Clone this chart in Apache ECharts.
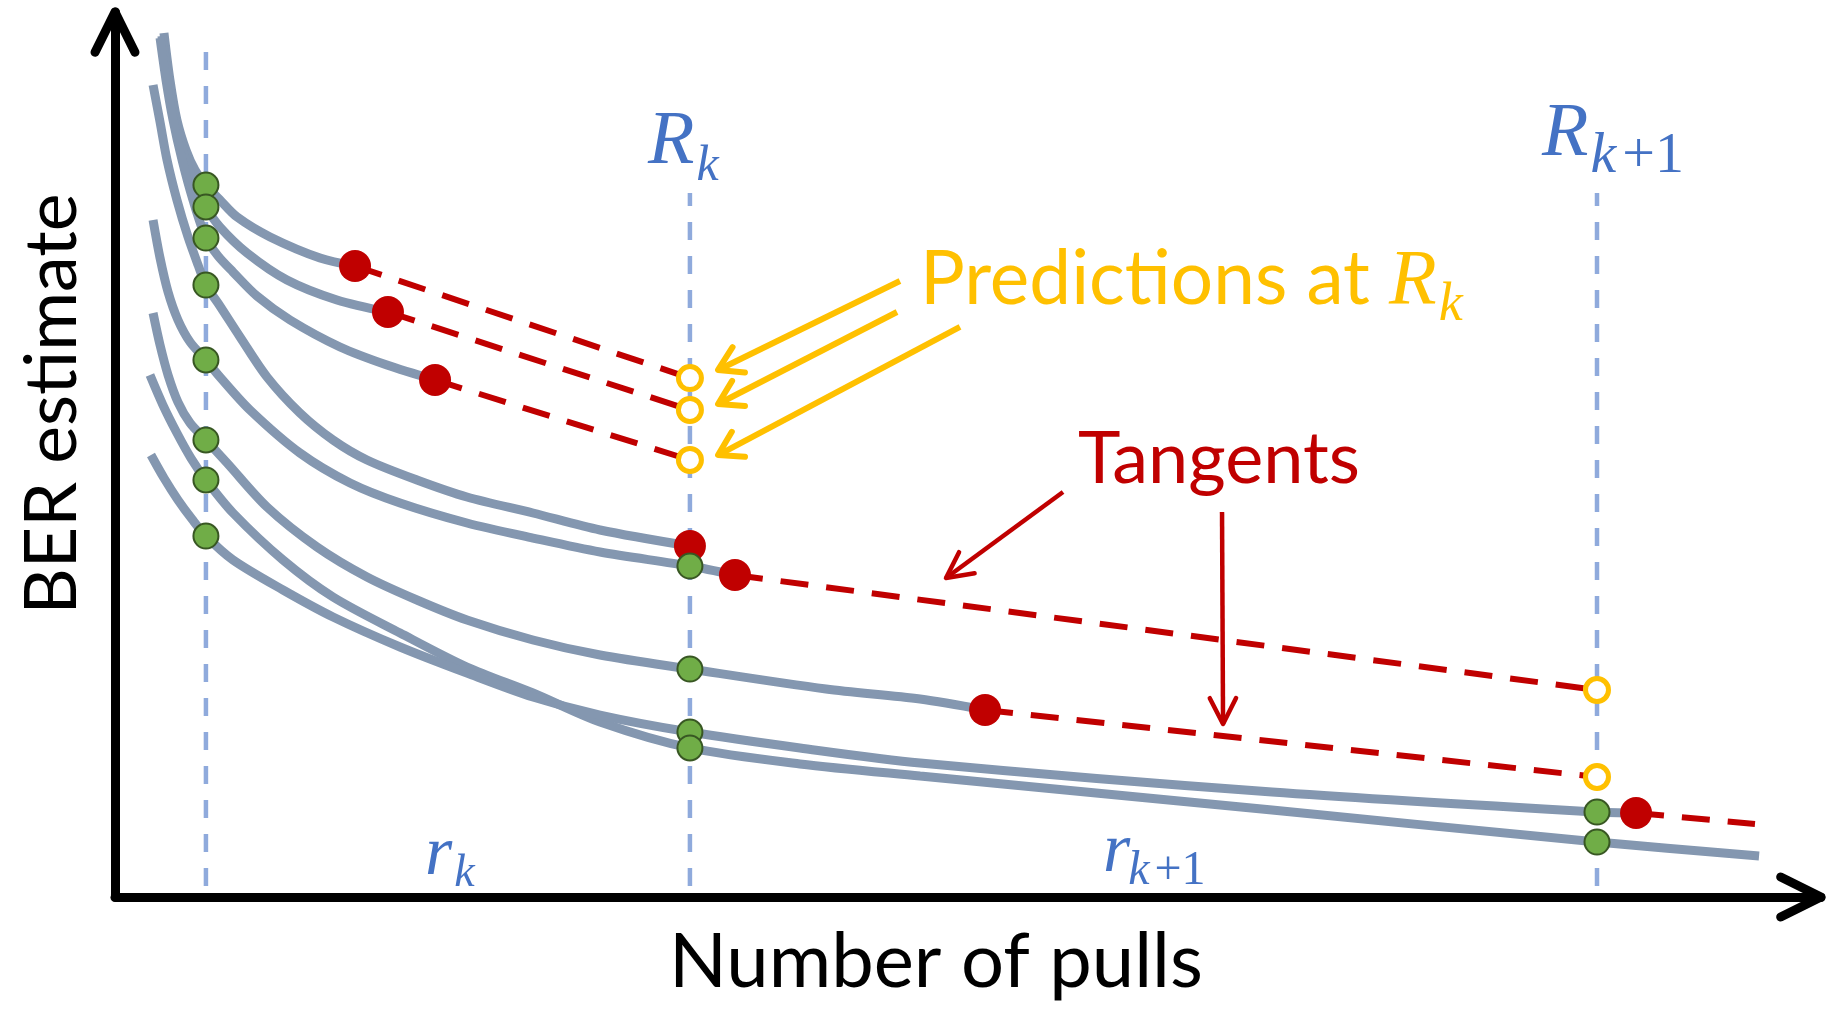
<!DOCTYPE html>
<html>
<head>
<meta charset="utf-8">
<script src="https://cdn.jsdelivr.net/npm/echarts@6/dist/echarts.min.js"></script>
<style>
html,body{margin:0;padding:0;background:#ffffff;}
#chart{width:1840px;height:1019px;}
</style>
</head>
<body>
<div id="chart"></div>
<script>
// ===== DATA (x = number of pulls, y = BER estimate; schematic units 0..100) =====
const checkpointX = [5.33, 33.70, 86.87];          // r_k start, R_k, R_{k+1}
const guideTop = [96.5, 79.55, 79.55];
const guideBottom = 1.24;

const curveA = [[2.87,97.63],[3.22,92.32],[3.63,87.80],[4.16,84.41],[4.69,82.15],[5.33,80.45],[6.15,78.76],[7.15,76.84],[9.09,74.58],[12.02,72.20],[14.07,71.30]];
const curveB = [[2.75,97.29],[3.11,92.32],[3.52,87.80],[4.04,83.84],[4.69,80.45],[5.33,77.97],[6.15,75.71],[7.74,72.77],[10.08,69.72],[13.01,67.46],[16.00,66.10]];
const curveC = [[2.64,97.06],[2.99,92.32],[3.40,87.80],[3.93,83.28],[4.57,78.76],[5.33,74.46],[6.04,72.43],[6.92,70.62],[8.32,67.91],[10.26,65.20],[13.19,62.15],[15.94,60.11],[18.76,58.42]];
const curveD = [[2.23,91.75],[2.64,87.57],[3.05,83.28],[3.63,78.76],[4.28,74.58],[4.87,71.41],[5.33,69.15],[6.15,66.78],[7.33,63.28],[8.91,58.76],[10.84,54.69],[12.78,51.64],[14.77,49.38],[17.70,47.12],[20.63,45.20],[24.50,43.39],[28.43,41.47],[33.70,39.66]];
const curveE = [[2.23,76.50],[2.64,72.20],[3.11,68.36],[3.69,65.20],[4.40,62.71],[5.33,60.68],[6.15,58.76],[7.91,55.03],[10.84,50.17],[13.78,46.78],[16.71,44.52],[20.63,42.26],[24.50,40.56],[28.43,38.98],[33.70,37.40],[36.34,36.38]];
const curveF = [[2.23,65.99],[2.64,62.37],[3.11,58.98],[3.69,55.93],[4.40,53.56],[5.33,51.64],[6.57,49.04],[8.91,44.07],[11.84,39.55],[14.77,36.16],[17.70,33.56],[20.63,31.30],[24.50,29.04],[28.43,27.34],[33.70,25.76],[41.68,23.50],[47.19,22.37],[51.00,21.13]];
const curveG = [[2.05,58.98],[2.81,55.59],[3.63,52.43],[4.45,49.60],[5.33,47.12],[6.92,43.39],[9.85,38.08],[12.78,33.90],[16.71,29.83],[20.63,25.99],[24.50,23.05],[28.43,19.77],[33.70,16.84],[40.15,15.03],[47.19,13.67],[67.82,9.83],[86.87,6.21],[96.37,4.63]];
const curveH = [[2.11,49.94],[2.87,47.34],[3.69,44.86],[4.51,42.71],[5.33,40.79],[6.92,38.08],[9.85,34.69],[12.78,31.64],[16.71,28.25],[20.63,25.31],[24.50,22.60],[28.43,20.56],[33.70,18.64],[40.15,16.84],[47.19,15.14],[67.82,11.86],[86.87,9.60],[89.16,9.49]];

const tangentA = [[14.07,71.30],[33.70,58.64]];
const tangentB = [[16.00,66.10],[33.70,55.03]];
const tangentC = [[18.76,58.42],[33.70,49.38]];
const tangentE = [[36.34,36.38],[86.87,23.39]];
const tangentF = [[51.00,21.13],[86.87,13.56]];
const tangentH = [[89.16,9.49],[96.13,8.25]];

const observedPoints = [[5.33,80.45],[5.33,77.97],[5.33,74.46],[5.33,69.15],[5.33,60.68],[5.33,51.64],[5.33,47.12],[5.33,40.79],
                        [33.70,37.40],[33.70,25.76],[33.70,18.64],[33.70,16.84],[86.87,9.60],[86.87,6.21]];
const tangentPoints = [[14.07,71.30],[16.00,66.10],[18.76,58.42],[33.70,39.66],[36.34,36.38],[51.00,21.13],[89.16,9.49]];
const predictionPoints = [[33.70,58.64],[33.70,55.03],[33.70,49.38],[86.87,23.39],[86.87,13.56]];

// annotation arrows [x1, y1, x2(tip), y2(tip)]
const predictionArrows = [[46.01,69.60,35.35,59.55],[45.84,66.10,35.35,55.71],[49.53,64.41,35.35,49.94]];
const tangentArrows = [[55.57,45.76,48.71,36.04],[64.89,43.50,64.95,19.55]];
const axisArrows = [[0,0,100,0],[0,0,0,100]];

// ===== STYLE / LAYOUT =====
const CURVE = '#8497B0', GREEN = '#70AD47', GREEN_B = '#385723', RED = '#C00000', GOLD = '#FFC000', BLUE = '#4472C4', GUIDE = '#8FAADC';
const SANS = "Lato, 'Open Sans', sans-serif";
const MATH = "'Liberation Serif', 'DejaVu Serif', serif";

const mctx = document.createElement('canvas').getContext('2d');
function tw(text, font){ mctx.font = font; mctx.textBaseline = 'alphabetic'; return mctx.measureText(text).width; }
function midOff(font, size){
  mctx.font = font; mctx.textBaseline = 'middle';
  const m = mctx.measureText('H');
  const v = m.actualBoundingBoxDescent;
  mctx.textBaseline = 'alphabetic';
  return (typeof v === 'number' && isFinite(v)) ? v : 0.33*size;
}
function textEl(text, left, baseline, font, size, color){
  const off = midOff(font, size);
  return { type:'text', x:left, y:baseline - off, silent:true, z:100,
    style:{ text:text, x:0, y:0, font:font, fill:color, align:'left', verticalAlign:'middle', textAlign:'left', textVerticalAlign:'middle' } };
}
function fitSize(text, family, weightStyle, target){
  const base = 80; return base * target / tw(text, weightStyle + ' ' + base + 'px ' + family);
}
function mathLabel(list, o){
  const fMain = 'italic ' + o.mainSize + 'px ' + MATH;
  list.push(textEl(o.main, o.x, o.base, fMain, o.mainSize, o.color));
  let sx = o.x + tw(o.main, fMain) + (o.gap || 2);
  const fSub = 'italic ' + o.subSize + 'px ' + MATH;
  list.push(textEl(o.sub, sx, o.subBase, fSub, o.subSize, o.color));
  if (o.tail){
    sx += tw(o.sub, fSub) + (o.tailGap || 4);
    const fTail = o.subSize + 'px ' + MATH;
    list.push(textEl(o.tail, sx, o.subBase, fTail, o.subSize, o.color));
  }
}

const graphics = [];
(function(){
  const s = fitSize('BER estimate', SANS, 'normal', 421);
  const f = s + 'px ' + SANS;
  const off = midOff(f, s);
  graphics.push({ type:'text', x:76 - off, y:404, rotation:Math.PI/2, silent:true, z:100,
    style:{ text:'BER estimate', x:0, y:0, font:f, fill:'#000', align:'center', verticalAlign:'middle', textAlign:'center', textVerticalAlign:'middle' } });
  const s2 = fitSize('Number of pulls', SANS, 'normal', 534);
  graphics.push(textEl('Number of pulls', 669, 987, s2 + 'px ' + SANS, s2, '#000'));
  const s3 = fitSize('Predictions at ', SANS, 'normal', 469);
  graphics.push(textEl('Predictions at ', 920, 304, s3 + 'px ' + SANS, s3, GOLD));
  mathLabel(graphics, { x: 1389, base:304, main:'R', sub:'k', mainSize:78, subSize:54, subBase:320, color:GOLD });
  const s4 = fitSize('Tangents', SANS, 'normal', 282);
  graphics.push(textEl('Tangents', 1078, 483, s4 + 'px ' + SANS, s4, RED));
})();
mathLabel(graphics, { x:648, base:163, main:'R', sub:'k', mainSize:76, subSize:50, subBase:180, color:BLUE });
mathLabel(graphics, { x:1542, base:155, main:'R', sub:'k', tail:'+1', mainSize:76, subSize:58, subBase:172, color:BLUE, tailGap:6 });
mathLabel(graphics, { x:425, base:874, main:'r', sub:'k', mainSize:70, subSize:46, subBase:886, color:BLUE, gap:0 });
mathLabel(graphics, { x:1103, base:871, main:'r', sub:'k', tail:'+1', mainSize:70, subSize:48, subBase:884, color:BLUE, gap:-2, tailGap:5 });

function arrowRender(headLen, halfAngle, width, color, shaft){
  return function(params, api){
    const p1 = api.coord([api.value(0), api.value(1)]);
    const p2 = api.coord([api.value(2), api.value(3)]);
    const ang = Math.atan2(p2[1]-p1[1], p2[0]-p1[0]);
    const h1 = [p2[0] + headLen*Math.cos(ang + Math.PI - halfAngle), p2[1] + headLen*Math.sin(ang + Math.PI - halfAngle)];
    const h2 = [p2[0] + headLen*Math.cos(ang + Math.PI + halfAngle), p2[1] + headLen*Math.sin(ang + Math.PI + halfAngle)];
    const st = { stroke:color, lineWidth:width, fill:null, lineCap:'round', lineJoin:'round' };
    const ch = [];
    if (shaft) ch.push({ type:'polyline', shape:{ points:[p1, p2] }, style:Object.assign({}, st, {lineCap:'butt'}) });
    ch.push({ type:'polyline', shape:{ points:[h1, p2, h2] }, style:st });
    return { type:'group', children:ch };
  };
}

const series = [];
checkpointX.forEach(function(x, i){
  series.push({ type:'line', data:[[x, guideBottom],[x, guideTop[i]]], symbol:'none', silent:true, z:1,
    lineStyle:{ color:GUIDE, width:4.5, type:[18,16] } });
});
[curveA, curveB, curveC, curveD, curveE, curveF, curveG, curveH].forEach(function(c){
  series.push({ type:'line', data:c, smooth:0.3, symbol:'none', showSymbol:false, silent:true, z:2,
    lineStyle:{ color:CURVE, width:9 } });
});
[tangentA, tangentB, tangentC, tangentE, tangentF, tangentH].forEach(function(t){
  series.push({ type:'line', data:t, symbol:'none', silent:true, z:3,
    lineStyle:{ color:RED, width:6, type:[28,18] } });
});
series.push({ type:'custom', coordinateSystem:'cartesian2d', data:predictionArrows, encode:{x:[0,2], y:[1,3]}, silent:true, z:4,
  renderItem: arrowRender(27, 0.55, 6, GOLD, true) });
series.push({ type:'custom', coordinateSystem:'cartesian2d', data:tangentArrows, encode:{x:[0,2], y:[1,3]}, silent:true, z:4,
  renderItem: arrowRender(29, 0.47, 4.5, RED, true) });
series.push({ type:'custom', coordinateSystem:'cartesian2d', data:axisArrows, encode:{x:[0,2], y:[1,3]}, silent:true, z:10,
  renderItem: arrowRender(45, 0.46, 9, '#000', false) });
series.push({ type:'scatter', data:tangentPoints, symbol:'circle', symbolSize:32, silent:true, z:5,
  itemStyle:{ color:RED, opacity:1 } });
series.push({ type:'scatter', data:observedPoints, symbol:'circle', symbolSize:25, silent:true, z:6,
  itemStyle:{ color:GREEN, borderColor:GREEN_B, borderWidth:2, opacity:1 } });
series.push({ type:'scatter', data:predictionPoints, symbol:'circle', symbolSize:23, silent:true, z:6,
  itemStyle:{ color:'#ffffff', borderColor:GOLD, borderWidth:5, opacity:1 } });

const axisCommon = { type:'value', min:0, max:100, axisTick:{show:false}, axisLabel:{show:false}, splitLine:{show:false},
  axisLine:{ show:true, onZero:false, lineStyle:{ color:'#000', width:9 } } };

const chart = echarts.init(document.getElementById('chart'), null, { renderer:'canvas' });
chart.setOption({
  animation:false,
  backgroundColor:'#ffffff',
  grid:{ left:115, right:19, top:12, bottom:122, containLabel:false },
  xAxis:Object.assign({}, axisCommon),
  yAxis:Object.assign({}, axisCommon),
  tooltip:{ show:false },
  series:series,
  graphic:graphics
});
</script>
</body>
</html>
